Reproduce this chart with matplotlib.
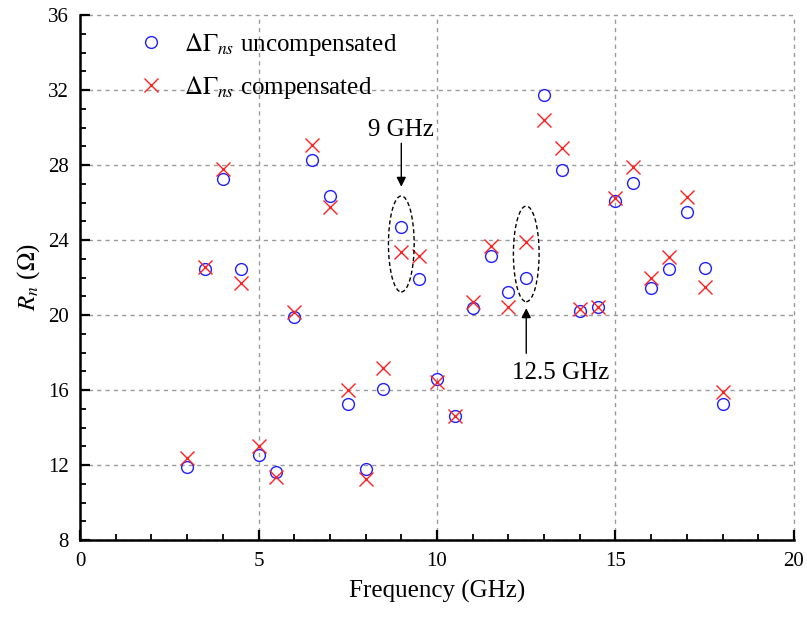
import matplotlib
matplotlib.use("Agg")
import matplotlib.pyplot as plt
from matplotlib.patches import Ellipse
from matplotlib.ticker import MultipleLocator

plt.rcParams['font.family'] = ['Liberation Serif', 'DejaVu Serif']
plt.rcParams['mathtext.fontset'] = 'stix'

# Noise resistance versus frequency
freq = [3, 3.5, 4, 4.5, 5, 5.5, 6, 6.5, 7, 7.5, 8, 8.5, 9, 9.5, 10, 10.5,
        11, 11.5, 12, 12.5, 13, 13.5, 14, 14.5, 15, 15.5, 16, 16.5, 17, 17.5, 18]
rn_uncomp = [11.88, 22.43, 27.25, 22.45, 12.53, 11.64, 19.91, 28.27, 26.36, 15.25,
             11.77, 16.05, 24.68, 21.90, 16.59, 14.61, 20.36, 23.16, 21.21, 21.96,
             31.72, 27.75, 20.21, 20.44, 26.08, 27.04, 21.42, 22.45, 25.51, 22.49, 15.25]
rn_comp = [12.39, 22.58, 27.77, 21.69, 13.03, 11.38, 20.18, 29.07, 25.78, 16.02,
           11.25, 17.16, 23.34, 23.15, 16.45, 14.61, 20.68, 23.70, 20.41, 23.88,
           30.40, 28.92, 20.30, 20.44, 26.22, 27.91, 21.96, 23.11, 26.28, 21.48, 15.87]

fig = plt.figure(figsize=(8.07, 6.19), dpi=100)
ax = fig.add_axes([80 / 807, 1 - 540 / 619, 714 / 807, 525 / 619])

ax.plot(freq, rn_uncomp, linestyle='none', marker='o', ms=8.5, mfc='none',
        mec='#1f1fff', mew=1.0, label=r'$\Delta\Gamma_{ns}$ uncompensated', zorder=3)
ax.plot(freq, rn_comp, linestyle='none', marker='x', ms=9.5,
        mec='#ff2020', mew=1.0, label=r'$\Delta\Gamma_{ns}$ compensated', zorder=3)

ax.set_xlim(0, 20)
ax.set_ylim(8, 36)
ax.xaxis.set_major_locator(MultipleLocator(5))
ax.xaxis.set_minor_locator(MultipleLocator(1))
ax.yaxis.set_major_locator(MultipleLocator(4))
ax.yaxis.set_minor_locator(MultipleLocator(1))
ax.tick_params(which='both', direction='in', top=False, right=False,
               labelsize=15, width=1.6)
ax.tick_params(which='major', length=7.5)
ax.tick_params(which='minor', length=4.5, width=1.3)
ax.tick_params(axis='x', which='both', pad=9)
ax.tick_params(axis='y', which='both', pad=8)

for s in ('top', 'right'):
    ax.spines[s].set_visible(False)
for s in ('left', 'bottom'):
    ax.spines[s].set_linewidth(1.8)

ax.grid(True, which='major', color='#9a9a9a', linestyle=(0, (3, 3)), linewidth=1.0)
for gl in ax.get_xgridlines() + ax.get_ygridlines():
    gl.set_clip_on(False)

ax.set_xlabel('Frequency (GHz)', fontsize=18, labelpad=6)
ax.set_ylabel(r'$R_n$ ($\Omega$)', fontsize=18, labelpad=4)

# Highlighted frequencies
ax.add_patch(Ellipse((9, 23.79), 0.72, 5.12, fill=False, edgecolor='black',
                     linestyle=(0, (3, 2)), linewidth=1.0, zorder=4))
ax.add_patch(Ellipse((12.5, 23.26), 0.72, 5.10, fill=False, edgecolor='black',
                     linestyle=(0, (3, 2)), linewidth=1.0, zorder=4))
ax.annotate('', xy=(9, 26.84), xytext=(9, 29.16),
            arrowprops=dict(arrowstyle='-|>', color='black', lw=1.0,
                            mutation_scale=14, shrinkA=0, shrinkB=0))
ax.text(9, 29.55, '9 GHz', fontsize=18, ha='center', va='baseline')
ax.annotate('', xy=(12.5, 20.36), xytext=(12.5, 17.96),
            arrowprops=dict(arrowstyle='-|>', color='black', lw=1.0,
                            mutation_scale=14, shrinkA=0, shrinkB=0))
ax.text(12.1, 16.6, '12.5 GHz', fontsize=18, ha='left', va='baseline')

ax.legend(loc='upper left', bbox_to_anchor=(0.051, 1.012), frameon=False,
          fontsize=18, handlelength=1.0, handletextpad=0.8, labelspacing=0.62)

fig.savefig('out.png', dpi=100)
